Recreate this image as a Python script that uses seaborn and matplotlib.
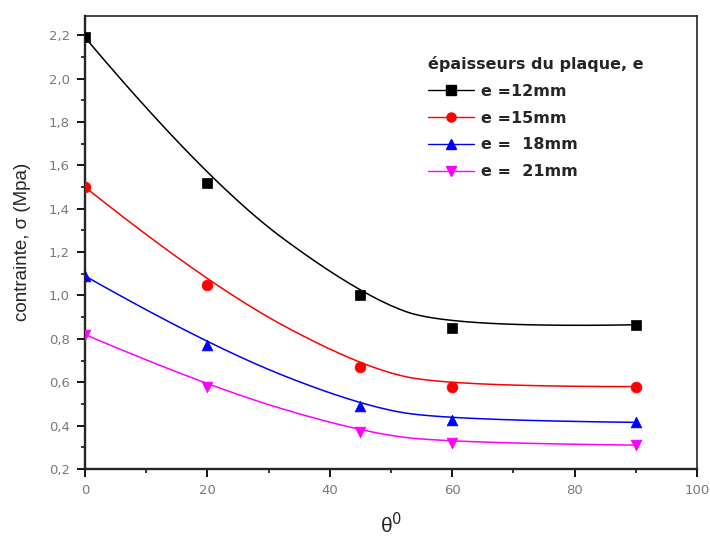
import numpy as np
import pandas as pd
import matplotlib
matplotlib.use("Agg")
import matplotlib.pyplot as plt
from matplotlib.lines import Line2D
from matplotlib.font_manager import FontProperties
from matplotlib.ticker import MultipleLocator, FuncFormatter
import seaborn as sns

# Measured stress versus angle for each plate thickness
theta = [0, 20, 45, 60, 90]
e12 = [2.19, 1.52, 1.00, 0.85, 0.865]
e15 = [1.50, 1.05, 0.67, 0.58, 0.58]
e18 = [1.09, 0.77, 0.49, 0.425, 0.415]
e21 = [0.82, 0.58, 0.37, 0.32, 0.31]
labels = ["e =12mm", "e =15mm", "e =  18mm", "e =  21mm"]
colors = ["black", "red", "blue", "magenta"]
markers = ["s", "o", "^", "v"]


def bspline(xs, ys, k=2, n=300):
    """Clamped B-spline of degree k using the data points as control points."""
    P = np.column_stack([xs, ys]).astype(float)
    m = len(P)
    inner = np.linspace(0, 1, m - k + 1)[1:-1]
    t = np.concatenate([np.zeros(k + 1), inner, np.ones(k + 1)])
    u = np.linspace(0, 1, n)
    u[-1] = 1 - 1e-12

    def basis(i, p, uu):
        if p == 0:
            return np.where((t[i] <= uu) & (uu < t[i + 1]), 1.0, 0.0)
        a = 0.0
        b = 0.0
        d1 = t[i + p] - t[i]
        d2 = t[i + p + 1] - t[i + 1]
        if d1 > 0:
            a = (uu - t[i]) / d1 * basis(i, p - 1, uu)
        if d2 > 0:
            b = (t[i + p + 1] - uu) / d2 * basis(i + 1, p - 1, uu)
        return a + b

    N = np.array([basis(i, k, u) for i in range(m)])
    C = N.T @ P
    return C[:, 0], C[:, 1]


series = [e12, e15, e18, e21]
pts = pd.concat(
    [pd.DataFrame({"theta": theta, "sigma": s, "serie": lab})
     for s, lab in zip(series, labels)],
    ignore_index=True,
)
curves = []
for s, lab in zip(series, labels):
    cx, cy = bspline(theta, s)
    curves.append(pd.DataFrame({"theta": cx, "sigma": cy, "serie": lab}))
curves = pd.concat(curves, ignore_index=True)

sns.set_style("ticks")
plt.rcParams["font.family"] = ["Liberation Sans", "DejaVu Sans"]

fig = plt.figure(figsize=(7.1, 5.42), dpi=100)
ax = fig.add_axes([0.1197, 0.1347, 0.8620, 0.8363])

palette = dict(zip(labels, colors))
sns.lineplot(data=curves, x="theta", y="sigma", hue="serie", palette=palette,
             sort=False, linewidth=1.1, legend=False, ax=ax, estimator=None)
for lab, mk in zip(labels, markers):
    sns.scatterplot(data=pts[pts["serie"] == lab], x="theta", y="sigma",
                    color=palette[lab], marker=mk, s=60, edgecolor=palette[lab],
                    linewidth=0.5, legend=False, ax=ax, zorder=3)

ax.set_xlim(0, 100)
ax.set_ylim(0.2, 2.29)
ax.xaxis.set_major_locator(MultipleLocator(20))
ax.xaxis.set_minor_locator(MultipleLocator(10))
ax.yaxis.set_major_locator(MultipleLocator(0.2))
ax.yaxis.set_minor_locator(MultipleLocator(0.1))
ax.yaxis.set_major_formatter(FuncFormatter(lambda v, p: f"{v:.1f}".replace(".", ",")))
ax.tick_params(which="major", direction="out", length=5.8, width=1.3,
               labelsize=9.5, labelcolor="#7a7a7a", color="black", pad=5)
ax.tick_params(which="minor", direction="out", length=3, width=1.1, color="black")
ax.tick_params(top=False, right=False, which="both")
for lab in ax.get_xticklabels() + ax.get_yticklabels():
    lab.set_family("DejaVu Sans")
for side in ["left", "bottom"]:
    ax.spines[side].set_linewidth(1.7)
for side in ["top", "right"]:
    ax.spines[side].set_linewidth(1.2)
    ax.spines[side].set_visible(True)

ax.set_xlabel(r"θ$^{0}$", fontsize=15)
ax.xaxis.set_label_coords(0.5, -0.095)
ax.set_ylabel("contrainte, σ (Mpa)", fontsize=13.5)
ax.yaxis.set_label_coords(-0.088, 0.5)

handles = [Line2D([], [], color=c, marker=m, markersize=6.5, linewidth=1.0)
           for c, m in zip(colors, markers)]
legend_font = FontProperties(family="DejaVu Sans", weight="bold", size=11.5)
leg = ax.legend(handles, labels, title="épaisseurs du plaque, e",
                loc="upper left", bbox_to_anchor=(428 / 710, 1 - 56 / 542),
                bbox_transform=fig.transFigure, frameon=False,
                prop=legend_font, handlelength=2.9, labelspacing=0.74,
                handletextpad=0.4, borderpad=0, borderaxespad=0)
leg.get_title().set_fontproperties(legend_font)
leg._legend_box.align = "left"

fig.savefig("out.png", dpi=100)
